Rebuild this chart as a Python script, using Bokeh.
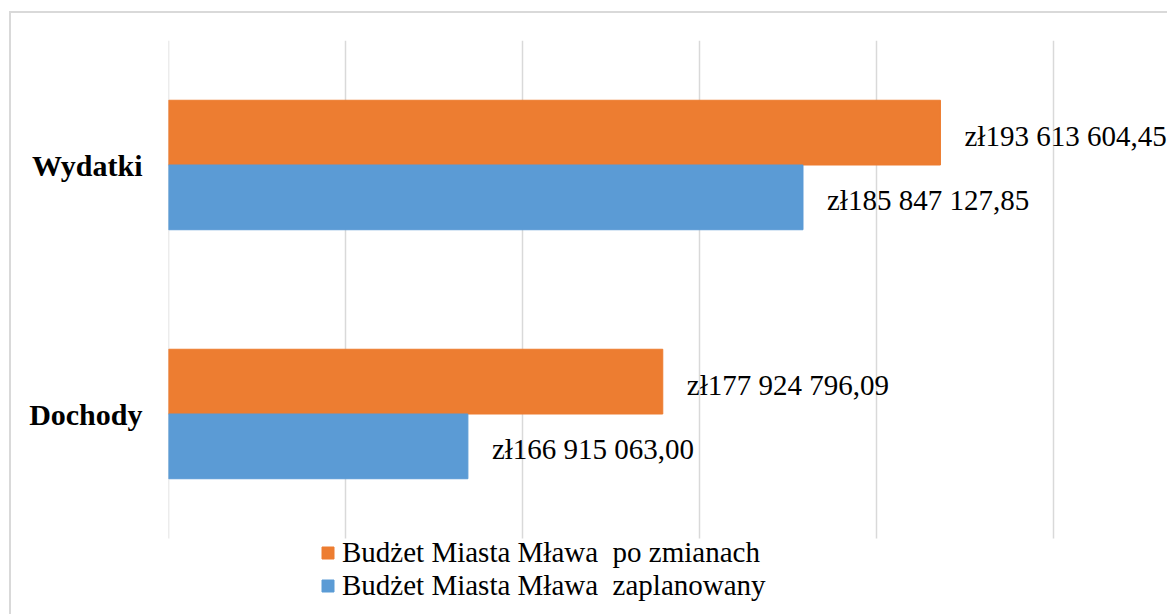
from bokeh.plotting import figure
from bokeh.models import ColumnDataSource, Range1d, FixedTicker, Legend, LegendItem
from bokeh.core.properties import value
from bokeh.embed import file_html
from bokeh.resources import INLINE

# ---- data ----
categories = ["Dochody", "Wydatki"]
planned = [166915063.00, 185847127.85]
changed = [177924796.09, 193613604.45]
series_names = ["Budżet Miasta Mława  po zmianach", "Budżet Miasta Mława  zaplanowany"]
x_ticks = [150e6, 160e6, 170e6, 180e6, 190e6, 200e6]
series_colors = ["#ED7D31", "#5B9BD5"]


def pln(v):
    s = f"{v:,.2f}"
    s = s.replace(",", " ").replace(".", ",")
    return "zł" + s


n = len(categories)
cat_pos = [i + 0.5 for i in range(n)]
OFF, BAR_H = 0.13, 0.26

src = ColumnDataSource(dict(
    base=[x_ticks[0]] * n,
    y_changed=[c + OFF for c in cat_pos],
    y_planned=[c - OFF for c in cat_pos],
    planned=planned,
    changed=changed,
    planned_lbl=[pln(v) for v in planned],
    changed_lbl=[pln(v) for v in changed],
))

FONT = "Liberation Serif"

# layout (pixels)
W, H = 1167, 614
LEFT, TOP = 168, 40
GRID_W = 885          # pixel width spanned by the gridlines
GRID_H = 498          # pixel height of the category area
FRAME_W = W - LEFT
FRAME_H = H - TOP
x_end = x_ticks[0] + (x_ticks[-1] - x_ticks[0]) * FRAME_W / GRID_W
y_start = n - n * FRAME_H / GRID_H

p = figure(width=W, height=H,
           x_range=Range1d(x_ticks[0], x_end),
           y_range=Range1d(y_start, n),
           output_backend="svg", toolbar_location=None,
           min_border_left=LEFT, min_border_top=TOP,
           min_border_right=0, min_border_bottom=0)

p.border_fill_color = None
p.background_fill_color = None
p.outline_line_color = None
p.styles = {
    "background": ("linear-gradient(#d9d9d9,#d9d9d9) 9px 11px / 2px 100% no-repeat, "
                   "linear-gradient(#d9d9d9,#d9d9d9) 9px 11px / 100% 2px no-repeat, white"),
}

# vertical gridlines limited to the category area
p.segment(x0=x_ticks, x1=x_ticks, y0=[0] * len(x_ticks), y1=[n] * len(x_ticks),
          line_color="#d9d9d9", line_width=1.5)

r_changed = p.hbar(y="y_changed", left="base", right="changed",
                   height=BAR_H, color=series_colors[0], source=src)
r_planned = p.hbar(y="y_planned", left="base", right="planned",
                   height=BAR_H, color=series_colors[1], source=src)

common = dict(x_offset=24, y_offset=3, text_baseline="middle", text_align="left",
              text_font=value(FONT), text_font_size="29px", text_color="black", source=src)
p.text(x="changed", y="y_changed", text="changed_lbl", **common)
p.text(x="planned", y="y_planned", text="planned_lbl", **common)

p.xaxis.visible = False
p.xgrid.visible = False
p.ygrid.visible = False

ya = p.yaxis[0]
ya.ticker = FixedTicker(ticks=cat_pos)
ya.major_label_overrides = {c: name for c, name in zip(cat_pos, categories)}
ya.axis_line_color = None
ya.major_tick_line_color = None
ya.minor_tick_line_color = None
ya.major_tick_in = 0
ya.major_tick_out = 0
ya.major_label_standoff = 26
ya.major_label_text_font = FONT
ya.major_label_text_font_style = "bold"
ya.major_label_text_font_size = "30px"
ya.major_label_text_color = "black"

legend = Legend(items=[LegendItem(label=series_names[0], renderers=[r_changed]),
                       LegendItem(label=series_names[1], renderers=[r_planned])],
                location=(152, 12), orientation="vertical",
                glyph_width=15, glyph_height=15, label_standoff=7,
                label_text_font=FONT, label_text_font_size="29px", label_text_color="black",
                label_height=33, spacing=0, padding=0, margin=0,
                border_line_color=None, background_fill_alpha=0)
p.add_layout(legend, "center")

open("out.html", "w").write(file_html(p, INLINE))
